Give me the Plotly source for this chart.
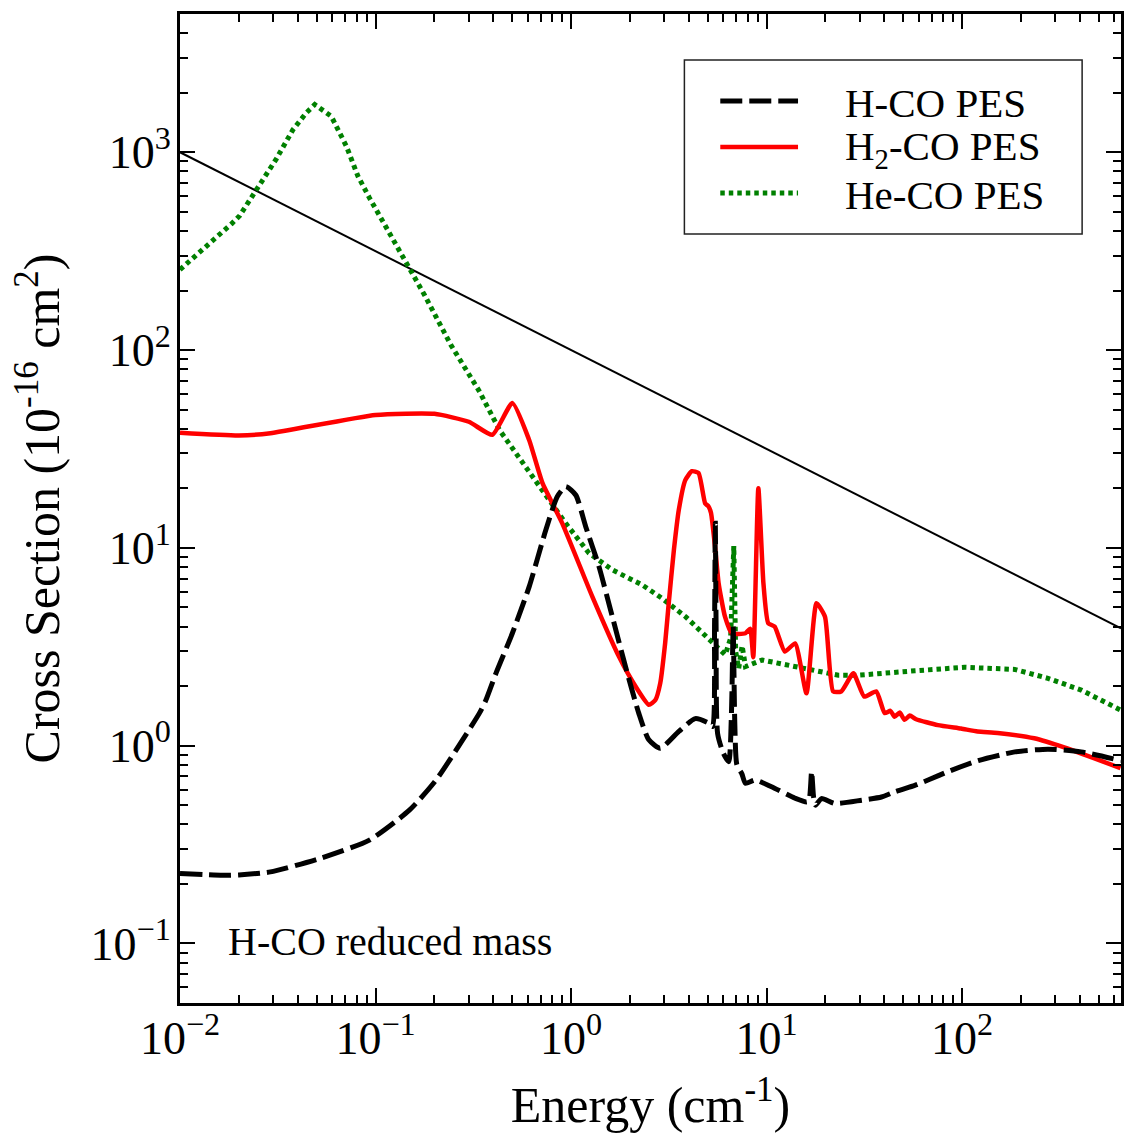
import plotly.graph_objects as go

# Elastic cross sections vs collision energy, computed with the H-CO reduced mass
# on three potential energy surfaces.

# H-CO PES (dashed black)
hco_energy = [0.01, 0.0165, 0.02, 0.029, 0.052, 0.093, 0.149, 0.204, 0.279, 0.34, 0.367,
              0.413, 0.501, 0.611, 0.743, 0.851, 0.94, 1.057, 1.189, 1.39, 1.626, 1.90,
              2.22, 2.50, 2.86, 3.56, 4.32, 5.06, 5.3, 5.42, 5.47, 5.52, 5.62, 6.0, 6.4,
              6.62, 6.75, 6.88, 7.05, 7.48, 7.8, 8.75, 10.6, 14.0, 16.1, 16.6, 17.0, 17.4,
              17.8, 19.1, 22.4, 30.7, 38.7, 45.4, 57.3, 67.0, 85.0, 121, 186, 275, 407, 650]
hco_sigma = [0.226, 0.221, 0.222, 0.23, 0.269, 0.333, 0.472, 0.67, 1.07, 1.46, 1.70,
             2.32, 3.7, 6.37, 12.3, 18.2, 20.4, 18.5, 12.8, 8.04, 4.49, 2.51,
             1.46, 1.07, 0.97, 1.18, 1.37, 1.30, 1.25, 4.0, 13.3, 4.0, 1.15, 0.92, 0.83,
             1.5, 4.0, 1.3, 0.8, 0.72, 0.645, 0.67, 0.62, 0.542, 0.52, 0.55, 0.74, 0.55,
             0.50, 0.54, 0.51, 0.53, 0.55, 0.585, 0.63, 0.67, 0.74, 0.84, 0.93, 0.96, 0.93, 0.84]

# H2-CO PES (solid red)
h2co_energy = [0.01, 0.02, 0.029, 0.1, 0.2, 0.3, 0.396, 0.501, 0.61, 0.714, 0.902, 1.285,
               1.758, 2.14, 2.5, 2.70, 2.86, 3.03, 3.16, 3.36, 3.56, 3.84, 4.15, 4.49, 4.85,
               5.05, 5.2, 5.47, 5.69, 6.13, 6.65, 7.8, 8.25, 8.55, 9.08, 9.64, 10.2, 11.0,
               12.4, 14.0, 16.0, 18.0, 19.9, 21.9, 24.1, 27.8, 31.6, 36.4, 40.2, 43.0, 45.2,
               48.0, 50.8, 54.0, 58.2, 75.2, 98.7, 120, 152, 234, 333, 646]
h2co_sigma = [38.2, 37.0, 38.0, 47.0, 47.6, 43.4, 37.3, 54.0, 35.2, 21.3, 13.3, 5.67,
              2.82, 1.99, 1.61, 1.7, 2.07, 3.3, 5.25, 9.8, 15.6, 22.0, 24.4, 23.9, 16.8,
              16.2, 15.0, 9.8, 6.6, 4.49, 3.7, 3.7, 3.9, 2.8, 20.0, 6.6, 4.16, 4.0,
              2.99, 3.29, 1.84, 5.25, 4.49, 1.88, 1.88, 2.32, 1.77, 1.88, 1.46, 1.50, 1.40,
              1.47, 1.35, 1.42, 1.36, 1.27, 1.22, 1.18, 1.16, 1.09, 0.98, 0.77]

# He-CO PES (dotted green)
heco_energy = [0.01, 0.0137, 0.0184, 0.0202, 0.0251, 0.0311, 0.0378, 0.0443, 0.0489, 0.0594,
               0.071, 0.0813, 0.0931, 0.1135, 0.146, 0.178, 0.243, 0.34, 0.43, 0.565, 0.743,
               0.94, 1.236, 1.626, 2.31, 2.92, 3.85, 4.86, 6.15, 6.55, 6.8, 6.95, 7.2, 7.5,
               7.8, 9.5, 15.1, 23.3, 29.4, 37.2, 57.3, 103, 186, 275, 407, 650]
heco_sigma = [255, 334, 436, 478, 660, 926, 1300, 1584, 1742, 1520,
              1072, 757, 588, 415, 265, 190, 106, 61.8, 39.5, 26.8, 18.2,
              13.3, 9.4, 7.74, 6.5, 5.56, 4.49, 3.63, 2.88, 3.5, 10.2, 3.0, 2.45, 3.2,
              2.51, 2.71, 2.46, 2.27, 2.27, 2.32, 2.39, 2.49, 2.43, 2.19, 1.91, 1.51]

# Reference line (thin black)
ref_energy = [0.01, 650]
ref_sigma = [1000, 3.92]

series_names = ["H-CO PES", "H<sub>2</sub>-CO PES", "He-CO PES"]
x_tick_vals = [0.01, 0.1, 1, 10, 100]
x_tick_text = ["10<sup>\u22122</sup>", "10<sup>\u22121</sup>", "10<sup>0</sup>",
               "10<sup>1</sup>", "10<sup>2</sup>"]
y_tick_vals = [0.1, 1, 10, 100, 1000]
y_tick_text = ["10<sup>\u22121</sup>", "10<sup>0</sup>", "10<sup>1</sup>",
               "10<sup>2</sup>", "10<sup>3</sup>"]

SERIF = "Liberation Serif, Times New Roman, serif"
W, H = 1125, 1133
ML, MR, MT, MB = 180, 1, 14, 130
PW, PH = W - ML - MR, H - MT - MB


def px_to_paper(x, y):
    return (x - ML) / PW, 1 - (y - MT) / PH


styles = [
    dict(color="black", width=5, dash="22px,7px"),
    dict(color="#ff0000", width=4.5, dash="solid"),
    dict(color="#008000", width=5, dash="4.5px,4px"),
]

fig = go.Figure()
fig.add_trace(go.Scatter(x=ref_energy, y=ref_sigma, mode="lines",
                         line=dict(color="black", width=2), showlegend=False,
                         hoverinfo="skip"))
fig.add_trace(go.Scatter(x=heco_energy, y=heco_sigma, mode="lines", name=series_names[2],
                         line=styles[2], showlegend=False))
fig.add_trace(go.Scatter(x=h2co_energy, y=h2co_sigma, mode="lines", name=series_names[1],
                         line=dict(**styles[1], shape="spline", smoothing=0.5),
                         showlegend=False))
fig.add_trace(go.Scatter(x=hco_energy, y=hco_sigma, mode="lines", name=series_names[0],
                         line=dict(**styles[0], shape="spline", smoothing=0.6),
                         showlegend=False))

# minor tick positions for the log axes
x_minor = [m * 10 ** k for k in range(-2, 3) for m in range(2, 10)]
y_minor = [m * 10 ** k for k in range(-2, 4) for m in range(2, 10)]

axis_common = dict(
    type="log", showline=True, linewidth=3, linecolor="black", mirror="allticks",
    ticks="inside", ticklen=15, tickwidth=2, tickcolor="black", showgrid=False,
    zeroline=False, tickfont=dict(family=SERIF, size=46, color="black"),
)

fig.update_xaxes(
    **axis_common, range=[-2, 2.8129], tickvals=x_tick_vals, ticktext=x_tick_text,
    minor=dict(tickvals=x_minor, ticks="inside", ticklen=8, tickwidth=1.5,
               tickcolor="black", showgrid=False),
    title=dict(text="Energy (cm<sup>-1</sup>)", font=dict(family=SERIF, size=50, color="black"),
               standoff=24),
    ticklabelstandoff=-7,
)
fig.update_yaxes(
    **axis_common, range=[-1.30103, 3.69897], tickvals=y_tick_vals, ticktext=y_tick_text,
    minor=dict(tickvals=y_minor, ticks="inside", ticklen=8, tickwidth=1.5,
               tickcolor="black", showgrid=False),
    title=dict(text="Cross Section (10<sup>-16</sup> cm<sup>2</sup>)",
               font=dict(family=SERIF, size=50, color="black"), standoff=16),
    ticklabelstandoff=-3,
)

# legend box drawn with shapes so the line samples can be long
shapes = []
annotations = []
bx0, by0 = px_to_paper(686, 60)
bx1, by1 = px_to_paper(1085, 234)
shapes.append(dict(type="rect", xref="paper", yref="paper", x0=bx0, x1=bx1, y0=by1, y1=by0,
                   line=dict(color="#222222", width=1.5), fillcolor="white", layer="above"))
for i, (name, st) in enumerate(zip(series_names, styles)):
    row_y = 101 + 46 * i
    lx0, ly = px_to_paper(722, row_y)
    lx1, _ = px_to_paper(800, row_y)
    shapes.append(dict(type="line", xref="paper", yref="paper", x0=lx0, x1=lx1, y0=ly, y1=ly,
                       line=dict(color=st["color"], width=st["width"], dash=st["dash"]),
                       layer="above"))
    tx, ty = px_to_paper(845, row_y + 2)
    annotations.append(dict(text=name, x=tx, y=ty, xref="paper", yref="paper",
                            xanchor="left", yanchor="middle", showarrow=False,
                            font=dict(family=SERIF, size=41, color="black")))

ax, ay = px_to_paper(226, 941)
annotations.append(dict(text="H-CO reduced mass", x=ax, y=ay, xref="paper", yref="paper",
                        xanchor="left", yanchor="middle", showarrow=False,
                        font=dict(family=SERIF, size=40, color="black")))

fig.update_layout(
    width=W, height=H, margin=dict(l=ML, r=MR, t=MT, b=MB),
    paper_bgcolor="white", plot_bgcolor="white",
    shapes=shapes, annotations=annotations, showlegend=False,
)

fig.write_html("out.html")
